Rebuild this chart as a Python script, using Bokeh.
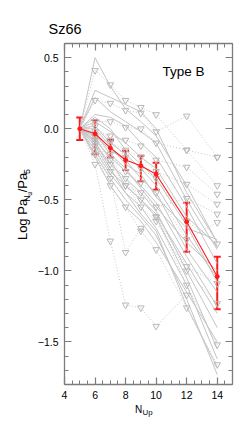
import math
from bokeh.plotting import figure
from bokeh.layouts import column, row
from bokeh.models import (ColumnDataSource, FixedTicker, LinearAxis, Label,
                          Whisker, TeeHead, Range1d)
from bokeh.embed import file_html
from bokeh.resources import INLINE

nan = float("nan")

# ---------------- data ----------------
n_up = [5, 6, 7, 8, 9, 10, 12, 14]

# mean (red) curve with asymmetric error bars
mean_log_ratio = [0.0, -0.035, -0.135, -0.22, -0.26, -0.32, -0.655, -1.04]
err_upper = [0.08, 0.095, 0.055, 0.065, 0.07, 0.08, 0.135, 0.14]
err_lower = [0.08, 0.145, 0.065, 0.07, 0.11, 0.11, 0.21, 0.23]

# individual epochs, detections (solid grey lines)
solid_series = [
    [0, 0.50, 0.30, 0.14, 0.05, -0.05, -0.40, -0.80],
    [0, 0.27, 0.22, 0.17, 0.12, 0.00, -0.45, -0.80],
    [0, 0.22, 0.12, 0.05, -0.02, -0.10, -0.50, -0.85],
    [0, 0.10, 0.08, 0.02, -0.10, -0.20, -0.55, -0.95],
    [0, 0.05, -0.02, -0.10, -0.20, -0.28, -0.62, -0.82],
    [0, 0.02, -0.10, -0.18, -0.28, -0.40, -0.75, -1.05],
    [0, -0.05, -0.15, -0.22, -0.35, -0.45, -0.85, -1.15],
    [0, -0.08, -0.20, -0.30, -0.40, -0.52, -0.90, -1.25],
    [0, -0.10, -0.25, -0.35, -0.45, -0.58, -1.00, -1.40],
    [0, -0.12, -0.30, -0.40, -0.50, -0.62, -1.05, -1.55],
    [0, -0.15, -0.32, -0.45, -0.55, -0.70, -1.10, -1.62],
    [0, -0.18, -0.35, -0.50, -0.62, -0.75, -1.20, -1.73],
    [0, -0.06, -0.22, -0.40, -0.50, -0.60, -0.95, -1.30],
    [0, -0.03, -0.18, -0.28, -0.42, -0.55, -0.80, -1.00],
    [0, 0.00, -0.12, -0.25, -0.32, -0.48, -0.70, -0.78],
    [0, -0.20, -0.40, -0.55, -0.65, -0.80, -1.15, -1.50],
    [0, 0.08, 0.00, -0.15, -0.25, -0.35, -0.68, -1.08],
    [0, -0.09, -0.28, -0.45, -0.60, -0.72, -1.25, -1.68],
]

# individual epochs, upper limits (dotted grey lines, triangles)
dotted_series = [
    [0, 0.41, 0.31, 0.20, 0.15, 0.10, -0.15, -0.20],
    [0, 0.20, 0.18, 0.13, 0.11, -0.02, 0.09, -0.20],
    [0, 0.05, 0.05, 0.01, 0.00, -0.10, -0.15, -0.40],
    [0, -0.02, -0.05, -0.08, -0.12, -0.22, -0.27, -0.46],
    [0, -0.05, -0.10, -0.15, -0.20, -0.30, -0.39, -0.53],
    [0, -0.10, -0.30, -0.40, -0.45, -0.55, -0.49, -0.60],
    [0, -0.25, -0.79, -1.24, -1.26, -1.39, -1.17, nan],
    [0, -0.15, -0.35, -0.87, -0.70, -0.62, -0.97, -1.09],
    [0, -0.12, -0.25, -0.40, -0.55, -0.65, -1.00, -1.23],
    [0, -0.08, -0.22, -0.35, -0.50, -0.62, -1.10, -1.52],
    [0, -0.18, -0.40, -0.55, -0.72, -0.85, -1.26, -1.66],
    [0, -0.06, -0.18, -0.30, -0.38, -0.45, -0.78, -0.66],
    [0, 0.02, -0.08, -0.20, -0.28, -0.35, -0.65, -0.81],
]

x_ticks = [4, 6, 8, 10, 12, 14]
x_tick_labels = ["4", "6", "8", "10", "12", "14"]
y_ticks = [-1.5, -1.0, -0.5, 0.0, 0.5]
y_tick_labels = ["\u22121.5", "\u22121.0", "\u22120.5", "0.0", "0.5"]

title_text = "Sz66"
type_text = "Type B"

# ---------------- layout geometry (page pixels) ----------------
X0, X1 = 4, 15
Y0, Y1 = -1.8, 0.6
FW, FH = 168, 341
FRAME_L, FRAME_T = 60, 43
TITLE_H = 36
YLAB_W = 34
MAIN_TOP = FRAME_T - TITLE_H          # 7
MAIN_LEFT = FRAME_L - YLAB_W          # 26
MAIN_BOTTOM = 18
MAIN_H = MAIN_TOP + FH + MAIN_BOTTOM  # 366
XLAB_Y = TITLE_H + MAIN_H             # 402
XLAB_H = 428 - XLAB_Y

FONT = "Liberation Sans"
MID = 0.3465   # em distance between alphabetic baseline and text middle
AX_COL = "#7c7c7c"

# ---------------- main figure ----------------
p = figure(frame_width=FW, frame_height=FH,
           x_range=Range1d(X0, X1), y_range=Range1d(Y0, Y1),
           output_backend="svg", toolbar_location=None,
           min_border_left=MAIN_LEFT, min_border_right=6,
           min_border_top=MAIN_TOP, min_border_bottom=MAIN_BOTTOM)
p.xgrid.visible = False
p.ygrid.visible = False
p.outline_line_color = None
p.background_fill_color = "white"
p.border_fill_color = "white"

x_minor = [X0 + 0.5 * i for i in range(int((X1 - X0) / 0.5) + 1)]
y_minor = [round(Y0 + 0.1 * i, 2) for i in range(25)]
xt = FixedTicker(ticks=x_ticks, minor_ticks=x_minor)
yt = FixedTicker(ticks=y_ticks, minor_ticks=y_minor)


def style_axis(ax, labels):
    ax.axis_line_color = AX_COL
    ax.axis_line_width = 1.3
    ax.major_tick_line_color = AX_COL
    ax.minor_tick_line_color = AX_COL
    ax.major_tick_line_width = 1.2
    ax.minor_tick_line_width = 1.0
    ax.major_tick_in = 7
    ax.major_tick_out = 0
    ax.minor_tick_in = 4
    ax.minor_tick_out = 0
    ax.major_label_text_font = FONT
    ax.major_label_text_font_size = "10.5px"
    ax.major_label_text_color = "black"
    ax.major_label_overrides = labels


xa = p.xaxis[0]
xa.ticker = xt
style_axis(xa, {float(t): l for t, l in zip(x_ticks, x_tick_labels)})
xa.major_label_standoff = 6
ya = p.yaxis[0]
ya.ticker = yt
style_axis(ya, {float(t): l for t, l in zip(y_ticks, y_tick_labels)})
ya.major_label_standoff = 6

top_ax = LinearAxis(ticker=xt)
style_axis(top_ax, {float(t): "" for t in x_ticks})
top_ax.major_label_text_font_size = "1px"
top_ax.major_label_standoff = 0
p.add_layout(top_ax, "above")
right_ax = LinearAxis(ticker=yt)
style_axis(right_ax, {float(t): "" for t in y_ticks})
right_ax.major_label_text_font_size = "1px"
right_ax.major_label_standoff = 0
p.add_layout(right_ax, "right")

# grey epochs
for s in solid_series:
    p.line(n_up, s, line_color="#c4c4c4", line_width=1)
for s in dotted_series:
    p.line(n_up, s, line_color="#c8c8c8", line_width=1, line_dash="1 2")
    xs = [x for x, v in zip(n_up[1:], s[1:]) if not math.isnan(v)]
    ys = [v for v in s[1:] if not math.isnan(v)]
    p.scatter(xs, ys, marker="inverted_triangle", size=6.5,
              line_color="#b8b8b8", fill_color=None, line_width=1)

# mean curve
src = ColumnDataSource(dict(
    x=n_up, y=mean_log_ratio,
    upper=[m + e for m, e in zip(mean_log_ratio, err_upper)],
    lower=[m - e for m, e in zip(mean_log_ratio, err_lower)],
))
RED = "#ff1a1a"
p.line("x", "y", source=src, line_color=RED, line_width=1.1)
p.add_layout(Whisker(base="x", upper="upper", lower="lower", source=src,
                     line_color=RED, line_width=2,
                     upper_head=TeeHead(size=7, line_color=RED, line_width=2),
                     lower_head=TeeHead(size=7, line_color=RED, line_width=2)))
p.scatter("x", "y", source=src, size=4, color=RED)

# "Type B" inside the frame (baseline at page y = 76)
TB_SIZE = 13.5
p.add_layout(Label(x=X0 + (158 - FRAME_L) * (X1 - X0) / FW,
                   y=Y1 - (76 - MID * TB_SIZE - FRAME_T) * (Y1 - Y0) / FH,
                   text=type_text, text_font=FONT,
                   text_font_size=f"{TB_SIZE}px",
                   text_color="black", text_baseline="middle",
                   text_align="left"))


# ---------------- text strips (data units == page pixels) ----------------
def strip(w, h, x0, y0):
    f = figure(width=w, height=h, x_range=Range1d(x0, x0 + w),
               y_range=Range1d(y0 + h, y0), output_backend="svg",
               toolbar_location=None, min_border=0,
               x_axis_type=None, y_axis_type=None)
    f.outline_line_color = None
    f.background_fill_color = "white"
    f.border_fill_color = "white"
    return f


def lab(f, text, px, py, size):
    """horizontal text, left edge px, alphabetic baseline py"""
    f.add_layout(Label(x=px, y=py - MID * size, text=text, text_font=FONT,
                       text_font_size=f"{size}px", text_color="black",
                       text_baseline="middle", text_align="left"))


def vlab(f, text, px, py, size):
    """text reading upward, baseline at page x = px, starting at page y = py"""
    f.add_layout(Label(x=px - MID * size, y=py, text=text, text_font=FONT,
                       text_font_size=f"{size}px", text_color="black",
                       text_baseline="middle", text_align="left",
                       angle=math.pi / 2, angle_units="rad"))


title_strip = strip(240, TITLE_H, 0, 0)
lab(title_strip, title_text, 48, 34, 14.5)

ylab_strip = strip(YLAB_W, MAIN_H, 0, TITLE_H)
vlab(ylab_strip, "Log Pa", 27, 247, 13)
vlab(ylab_strip, "N", 30, 205.8, 9)
vlab(ylab_strip, "u", 31.5, 199.3, 6.5)
vlab(ylab_strip, "/Pa", 27, 195.7, 13)
vlab(ylab_strip, "5", 30, 176.2, 9)

xlab_strip = strip(240, XLAB_H, 0, XLAB_Y)
lab(xlab_strip, "N", 134.5, 412, 10)
lab(xlab_strip, "Up", 142, 414.5, 7.8)

layout = column(title_strip, row(ylab_strip, p), xlab_strip)

open("out.html", "w").write(file_html(layout, INLINE))
